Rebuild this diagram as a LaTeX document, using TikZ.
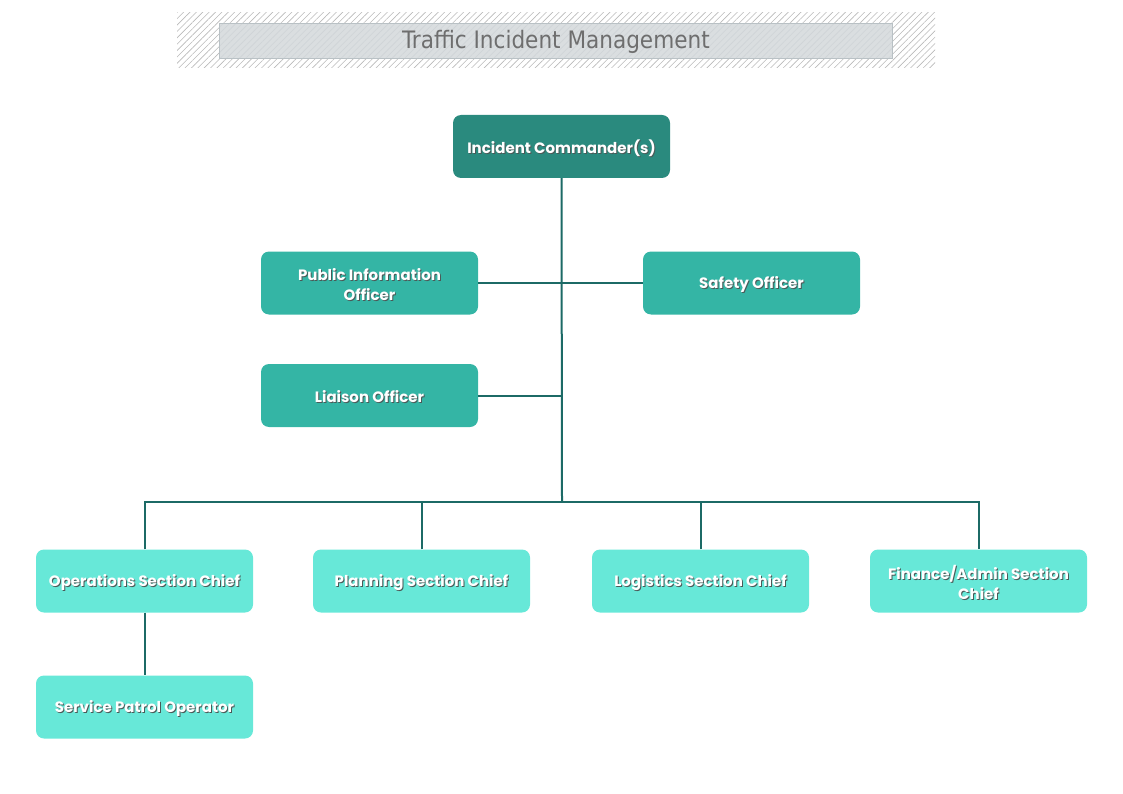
\documentclass[tikz,border=0pt]{standalone}
\usepackage{fontspec}
\setmainfont{Poppins}
\newfontfamily\titlefont{DejaVu Sans Condensed}
\usepackage{tikz}
\usetikzlibrary{patterns.meta}

\definecolor{cmdteal}{HTML}{2A8A7E}
\definecolor{staffteal}{HTML}{34B5A5}
\definecolor{chiefteal}{HTML}{67E8D8}
\definecolor{linkteal}{HTML}{1C6A66}
\definecolor{txtshadow}{HTML}{4A5A58}
\definecolor{bannerfill}{HTML}{D3D8DB}
\definecolor{bannerline}{HTML}{B9C1C5}
\definecolor{bannertext}{HTML}{6E6E6E}
\newcommand{\shd}[1]{\raisebox{-1.5pt}[\height][\depth]{\makebox[0pt][l]{\raisebox{-1pt}[0pt][0pt]{\hspace{1pt}\textcolor{txtshadow}{#1}}}#1}}

\begin{document}
\begin{tikzpicture}[x=1pt,y=-1pt,
    orgbox/.style={rounded corners=8pt, minimum width=217pt, minimum height=63pt,
        text=white, font=\fontsize{15}{20}\selectfont\bfseries, align=center, inner sep=2pt},
    cmdbox/.style={orgbox, fill=cmdteal},
    staffbox/.style={orgbox, fill=staffteal},
    chiefbox/.style={orgbox, fill=chiefteal},
    link/.style={draw=linkteal, line width=2pt}]
    \useasboundingbox (0,0) rectangle (1123,794);
    % title banner
    \path[pattern={Lines[angle=45,distance=4.5pt,line width=0.6pt]}, pattern color=gray!55]
        (177,13) rectangle (935,68);
    \draw[fill=bannerfill, fill opacity=0.85, draw=bannerline, line width=0.8pt]
        (219,23) rectangle (892,58);
    \node[text=bannertext, font=\titlefont\fontsize{24}{26}\selectfont] (title) at (556,42)
        {Traffic Incident Management};
    % command and staff
    \node[cmdbox] (ic) at (561.5,146.5) {\shd{Incident Commander(s)}};
    \node[staffbox] (pio) at (369.5,283) {\shd{Public Information}\\\shd{Officer}};
    \node[staffbox] (safety) at (751.5,283) {\shd{Safety Officer}};
    \node[staffbox] (liaison) at (369.5,395.5) {\shd{Liaison Officer}};
    % sections
    \node[chiefbox] (ops) at (144.5,581) {\shd{Operations Section Chief}};
    \node[chiefbox] (plan) at (421.5,581) {\shd{Planning Section Chief}};
    \node[chiefbox] (log) at (700.5,581) {\shd{Logistics Section Chief}};
    \node[chiefbox] (fin) at (978.5,581) {\shd{Finance/Admin Section}\\\shd{Chief}};
    \node[chiefbox] (patrol) at (144.5,707) {\shd{Service Patrol Operator}};
    % connectors
    \coordinate (bus) at (562,502);
    \draw[link] (ic.south) -- (bus);
    \draw[link] (pio.east) -- (safety.west);
    \draw[link] (liaison.east) -- (liaison.east -| ic.south);
    \draw[link] (ops.north) |- (bus) -| (fin.north);
    \draw[link] (plan.north) -- (plan.north |- bus);
    \draw[link] (log.north) -- (log.north |- bus);
    \draw[link] (ops.south) -- (patrol.north);
\end{tikzpicture}
\end{document}
